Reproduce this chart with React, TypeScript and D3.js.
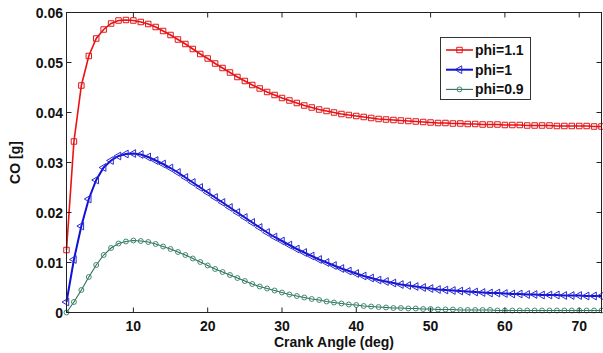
import React from "react";
import * as d3 from "d3";

const angles: number[] = d3.range(1, 74);

const phi11: number[] = [
  0.0125, 0.0342, 0.0454, 0.0513, 0.0548, 0.0566, 0.0578, 0.0584, 0.0585, 0.0584,
  0.0581, 0.0577, 0.0571, 0.0563, 0.0555, 0.0546, 0.0537, 0.0527, 0.0517, 0.0508,
  0.0498, 0.0489, 0.0480, 0.0471, 0.0463, 0.0455, 0.0448, 0.0441, 0.0435, 0.0429,
  0.0424, 0.0419, 0.0414, 0.0410, 0.0406, 0.0403, 0.0400, 0.0397, 0.0395, 0.0393,
  0.0391, 0.0389, 0.0387, 0.0386, 0.0385, 0.0384, 0.0383, 0.0382, 0.0381, 0.0380,
  0.0379, 0.0379, 0.0378, 0.0378, 0.0377, 0.0377, 0.0376, 0.0376, 0.0376, 0.0375,
  0.0375, 0.0375, 0.0374, 0.0374, 0.0374, 0.0374, 0.0373, 0.0373, 0.0373, 0.0373,
  0.0373, 0.0372, 0.0372,
];

const phi10: number[] = [
  0.0021, 0.0106, 0.0173, 0.0227, 0.0265, 0.0290, 0.0304, 0.0313, 0.0317, 0.0318,
  0.0316, 0.0311, 0.0304, 0.0297, 0.0289, 0.0280, 0.0270, 0.0260, 0.0250, 0.0240,
  0.0230, 0.0220, 0.0210, 0.0200, 0.0190, 0.0180, 0.0170, 0.0160, 0.0151, 0.0143,
  0.0135, 0.0127, 0.0120, 0.0113, 0.0106, 0.0100, 0.0094, 0.0088, 0.0083, 0.0078,
  0.0073, 0.0069, 0.0065, 0.0062, 0.0059, 0.0056, 0.0054, 0.0052, 0.0050, 0.0048,
  0.0046, 0.0045, 0.0044, 0.0043, 0.0042, 0.0041, 0.0040, 0.0039, 0.0039, 0.0038,
  0.0037, 0.0037, 0.0036, 0.0036, 0.0035, 0.0035, 0.0035, 0.0034, 0.0034, 0.0034,
  0.0033, 0.0033, 0.0033,
];

const phi09: number[] = [
  0.0000, 0.0021, 0.0045, 0.0071, 0.0095, 0.0115, 0.0129, 0.0138, 0.0142, 0.0144,
  0.0143, 0.0141, 0.0137, 0.0132, 0.0127, 0.0121, 0.0115, 0.0108, 0.0101, 0.0094,
  0.0087, 0.0081, 0.0075, 0.0069, 0.0063, 0.0057, 0.0052, 0.0048, 0.0044, 0.0040,
  0.0036, 0.0033, 0.0030, 0.0027, 0.0025, 0.0022, 0.0020, 0.0018, 0.0016, 0.0015,
  0.0013, 0.0012, 0.0011, 0.0010, 0.0009, 0.0009, 0.0008, 0.0008, 0.0007, 0.0007,
  0.0006, 0.0006, 0.0006, 0.0005, 0.0005, 0.0005, 0.0005, 0.0005, 0.0004, 0.0004,
  0.0004, 0.0004, 0.0004, 0.0004, 0.0004, 0.0004, 0.0004, 0.0004, 0.0004, 0.0004,
  0.0004, 0.0004, 0.0004,
];

const seriesNames: string[] = ["phi=1.1", "phi=1", "phi=0.9"];
const xTicks: number[] = [10, 20, 30, 40, 50, 60, 70];
const yTicks: number[] = [0, 0.01, 0.02, 0.03, 0.04, 0.05, 0.06];
const xLabel = "Crank Angle (deg)";
const yLabel = "CO [g]";

const W = 603;
const H = 353;
const left = 66.5;
const right = 601.5;
const top = 12.5;
const bottom = 312.5;

const FONT = "'Liberation Sans', Arial, sans-serif";

type Kind = "square" | "triangle" | "circle";

const styles = [
  { color: "#ee1111", marker: "#e0161a", width: 1.6, kind: "square" as Kind },
  { color: "#1010d8", marker: "#2a2ad0", width: 2.0, kind: "triangle" as Kind },
  { color: "#2b6e55", marker: "#3f8a6e", width: 1.1, kind: "circle" as Kind },
];

function markerPath(kind: Kind): string {
  if (kind === "square") return d3.symbol(d3.symbolSquare, 30)() as string;
  if (kind === "triangle") return d3.symbol(d3.symbolTriangle, 26)() as string;
  return d3.symbol(d3.symbolCircle, 19)() as string;
}

export default function App() {
  const x = d3.scaleLinear().domain([1, 73]).range([left, right]);
  const y = d3.scaleLinear().domain([0, 0.06]).range([bottom, top]);
  const data = [phi11, phi10, phi09];
  const line = d3
    .line<number>()
    .x((_, i) => x(angles[i]))
    .y((v) => y(v));

  const tickLen = 5;

  return (
    <svg
      width={W}
      height={H}
      style={{ position: "absolute", left: 0, top: 0, background: "#fff" }}
      fontFamily={FONT}
    >
      <rect x={0} y={0} width={W} height={H} fill="#fff" />
      {/* series */}
      {data.map((vals, si) => {
        const st = styles[si];
        const p = markerPath(st.kind);
        return (
          <g key={si}>
            <path d={line(vals) as string} fill="none" stroke={st.color} strokeWidth={st.width} />
            {vals.map((v, i) => (
              <path
                key={i}
                d={p}
                transform={`translate(${x(angles[i])},${y(v)})${st.kind === "triangle" ? " rotate(-90)" : ""}`}
                fill="none"
                stroke={st.marker}
                strokeWidth={1}
              />
            ))}
          </g>
        );
      })}
      {/* axes box */}
      <rect x={left} y={top} width={right - left} height={bottom - top} fill="none" stroke="#222" strokeWidth={1} />
      {xTicks.map((t) => (
        <g key={"x" + t}>
          <line x1={x(t)} x2={x(t)} y1={bottom} y2={bottom - tickLen} stroke="#222" />
          <line x1={x(t)} x2={x(t)} y1={top} y2={top + tickLen} stroke="#222" />
          <text x={x(t)} y={331} textAnchor="middle" fontSize={14} fontWeight="bold" fill="#111">
            {t}
          </text>
        </g>
      ))}
      {yTicks.map((t) => (
        <g key={"y" + t}>
          <line x1={left} x2={left + tickLen} y1={y(t)} y2={y(t)} stroke="#222" />
          <line x1={right} x2={right - tickLen} y1={y(t)} y2={y(t)} stroke="#222" />
          <text x={63} y={y(t) + 5} textAnchor="end" fontSize={14} fontWeight="bold" fill="#111">
            {t === 0 ? "0" : t.toFixed(2)}
          </text>
        </g>
      ))}
      <text x={(left + right) / 2} y={347} textAnchor="middle" fontSize={14} fontWeight="bold" fill="#111">
        {xLabel}
      </text>
      <text
        transform={`translate(20,${(top + bottom) / 2}) rotate(-90)`}
        textAnchor="middle"
        fontSize={14}
        fontWeight="bold"
        fill="#111"
      >
        {yLabel}
      </text>
      {/* legend */}
      <g>
        <rect x={440.5} y={37.5} width={90} height={62} fill="#fff" stroke="#333" strokeWidth={1} />
        {seriesNames.map((name, i) => {
          const st = styles[i];
          const cy = 50 + i * 19.7;
          return (
            <g key={name}>
              <line x1={446} x2={473} y1={cy} y2={cy} stroke={st.color} strokeWidth={st.width} />
              <path
                d={markerPath(st.kind)}
                transform={`translate(459.5,${cy})${st.kind === "triangle" ? " rotate(-90)" : ""}`}
                fill="none"
                stroke={st.marker}
                strokeWidth={1}
              />
              <text x={475} y={cy + 5} fontSize={14} fontWeight="bold" fill="#111">
                {name}
              </text>
            </g>
          );
        })}
      </g>
    </svg>
  );
}
